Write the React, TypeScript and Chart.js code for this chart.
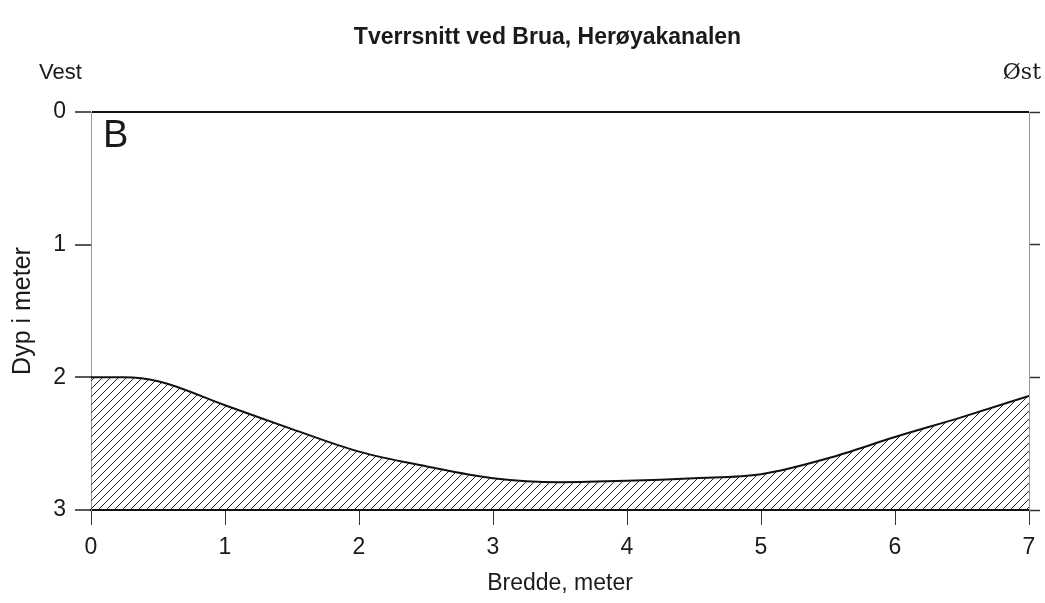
import React, { useEffect, useRef } from "react";
import { Chart, registerables } from "chart.js";

Chart.register(...registerables);

const TITLE = "Tverrsnitt ved Brua, Herøyakanalen";
const X_TITLE = "Bredde, meter";
const Y_TITLE = "Dyp i meter";
const WEST = "Vest";
const EAST = "Øst";
const PANEL = "B";

const widthM = [0, 0.25, 0.5, 1, 1.5, 2, 2.5, 3, 3.5, 4, 4.5, 5, 5.5, 6, 6.5, 7];
const depthM = [2.0, 2.0, 2.03, 2.21, 2.39, 2.56, 2.67, 2.76, 2.79, 2.78, 2.76, 2.73, 2.61, 2.45, 2.3, 2.14];
const bottomDepth = 3;

const SANS = "'Liberation Sans', Arial, sans-serif";
const INK = "#1a1a1a";

function makeHatch(): CanvasPattern | string {
  const s = 8;
  const c = document.createElement("canvas");
  c.width = s;
  c.height = s;
  const g = c.getContext("2d");
  if (!g) return "rgba(0,0,0,0.3)";
  g.strokeStyle = "#222";
  g.lineWidth = 1;
  g.beginPath();
  g.moveTo(0, s);
  g.lineTo(s, 0);
  g.moveTo(-1, 1);
  g.lineTo(1, -1);
  g.moveTo(s - 1, s + 1);
  g.lineTo(s + 1, s - 1);
  g.stroke();
  const p = g.createPattern(c, "repeat");
  return p || "rgba(0,0,0,0.3)";
}

const textPlugin = {
  id: "sideText",
  afterDraw(chart: any) {
    const ctx = chart.ctx;
    const area = chart.chartArea;
    ctx.save();
    ctx.fillStyle = INK;
    ctx.textBaseline = "middle";
    ctx.font = `22px ${SANS}`;
    ctx.textAlign = "left";
    ctx.fillText(WEST, 39, 73);
    ctx.font = `22px 'DejaVu Serif', serif`;
    ctx.textAlign = "right";
    ctx.fillText(EAST, 1041, 73);
    ctx.font = `38px ${SANS}`;
    ctx.textAlign = "left";
    ctx.fillText(PANEL, area.left + 12, area.top + 25);
    ctx.restore();
  },
};

export default function App() {
  const ref = useRef<HTMLCanvasElement | null>(null);

  useEffect(() => {
    if (!ref.current) return;
    const chart = new Chart(ref.current, {
      type: "line",
      data: {
        datasets: [
          {
            data: widthM.map((x, i) => ({ x, y: depthM[i] })),
            borderColor: "#111",
            borderWidth: 2,
            pointRadius: 0,
            cubicInterpolationMode: "monotone",
            fill: { value: bottomDepth },
            backgroundColor: makeHatch() as any,
          },
        ],
      },
      options: {
        responsive: false,
        animation: false,
        devicePixelRatio: 1,
        layout: { padding: { left: 50, right: 0, top: 0, bottom: 0 } },
        plugins: {
          legend: { display: false },
          tooltip: { enabled: false },
          title: {
            display: true,
            text: TITLE,
            color: INK,
            font: { family: SANS, size: 23, weight: "bold" },
            padding: { top: 24.2, bottom: 60.2 },
          },
        },
        scales: {
          x: {
            type: "linear",
            min: 0,
            max: 7,
            ticks: {
              stepSize: 1,
              color: INK,
              font: { family: SANS, size: 23 },
              padding: 9,
              maxRotation: 0,
            },
            grid: {
              drawOnChartArea: false,
              drawTicks: true,
              tickLength: 15,
              tickColor: "#333",
              tickWidth: 1,
            },
            border: { display: true, color: "#111", width: 2 },
            title: {
              display: true,
              text: X_TITLE,
              color: INK,
              font: { family: SANS, size: 23 },
              padding: { top: 0, bottom: 6 },
            },
            afterFit: (s: any) => {
              s.height = 93;
            },
          },
          y: {
            type: "linear",
            position: "left",
            reverse: true,
            min: 0,
            max: 3,
            ticks: {
              stepSize: 1,
              color: INK,
              font: { family: SANS, size: 23 },
              padding: 9,
            },
            grid: {
              drawOnChartArea: true,
              color: (c: any) =>
                c.tick && (c.tick.value === 0 || c.tick.value === 3) ? "#111" : "rgba(0,0,0,0)",
              lineWidth: 2,
              tickColor: "#222",
              tickWidth: 1.5,
              tickLength: 16,
            },
            border: { display: true, color: "#999", width: 1 },
            title: {
              display: true,
              text: Y_TITLE,
              color: INK,
              font: { family: SANS, size: 25 },
              padding: { top: -42, bottom: 0 },
            },
            afterFit: (s: any) => {
              s.width = 41;
            },
          },
          y2: {
            type: "linear",
            position: "right",
            reverse: true,
            min: 0,
            max: 3,
            ticks: { stepSize: 1, display: false },
            grid: {
              drawOnChartArea: false,
              tickLength: 11,
              tickColor: "#333",
              tickWidth: 1.5,
            },
            border: { display: true, color: "#999", width: 1 },
            afterFit: (s: any) => {
              s.width = 16;
            },
          },
        },
      } as any,
      plugins: [textPlugin],
    });
    return () => chart.destroy();
  }, []);

  return (
    <div style={{ position: "absolute", left: 0, top: 0, width: 1045, height: 603, background: "#fff" }}>
      <canvas ref={ref} width={1045} height={603} style={{ display: "block" }} />
    </div>
  );
}
